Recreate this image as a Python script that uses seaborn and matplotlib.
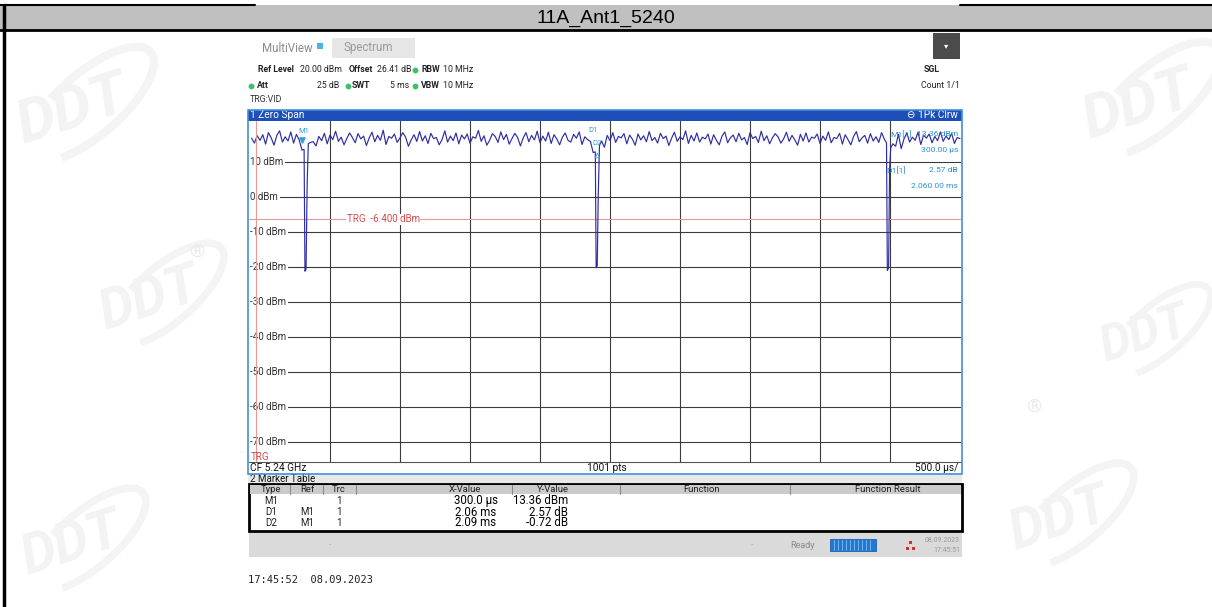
import numpy as np
import pandas as pd
import seaborn as sns
import matplotlib.pyplot as plt
from matplotlib.patches import Rectangle, Arc
from matplotlib.lines import Line2D

TITLE = "11A_Ant1_5240"

# trace 1 (1Pk Clrw), one value every 20 us starting at -0.06 ms;
# None where the burst gap is drawn from the finer dip readings below
trace_dbm = [
    16.8, 15.4, 17.5,
    16.2, 17.8, 15.1, 18.4, 16.9, 14.8, 17.6, 18.9, 15.7, 17.2, 16.0, 18.6, 15.4, 17.9, 16.3, 13.4, None, None, 15.6, 15.8, 14.6, 17.3, 16.1, 18.2, 15.2,
    17.7, 16.4, 18.8, 15.9, 17.1, 14.9, 16.7, 18.3, 17.0, 15.5, 18.1, 16.6, 17.4, 14.7, 16.9, 18.5, 15.8, 17.6, 16.2, 19.1, 15.0, 17.3, 16.8, 18.0, 15.6,
    16.9, 18.4, 17.1, 14.5, 16.3, 17.8, 15.9, 18.7, 16.0, 17.5, 15.3, 18.2, 16.7, 17.0, 14.9, 16.4, 18.9, 15.7, 17.4, 16.1, 18.3, 15.2, 17.7, 16.6, 18.0,
    15.4, 17.2, 16.8, 19.0, 15.9, 17.5, 14.8, 16.2, 18.1, 17.3, 15.6, 18.6, 16.4, 17.9, 15.1, 16.7, 18.2, 17.0, 14.6, 16.9, 18.4, 15.8, 17.6, 16.3, 18.8,
    15.5, 17.4, 16.0, 18.5, 15.3, 17.8, 16.6, 14.9, 17.1, 18.3, 16.2, 15.7, 17.9, 16.8, 18.6, 15.0, 17.2, 16.4, 15.9, 12.7, None, None, 16.0, 14.2, 17.6,
    16.1, 18.4, 15.6, 17.3, 16.9, 18.1, 15.2, 17.7, 16.5, 14.8, 18.0, 16.3, 17.5, 15.8, 18.7, 16.1, 17.0, 15.4, 18.2, 16.7, 17.4, 14.7, 16.8, 18.5, 15.9,
    17.2, 16.4, 18.9, 15.3, 17.6, 16.0, 18.3, 15.7, 17.1, 16.6, 18.0, 15.1, 17.8, 16.2, 14.9, 17.4, 18.6, 15.5, 16.9, 17.7, 15.8, 18.2, 16.3, 17.0, 15.0,
    18.4, 16.7, 17.3, 15.6, 18.8, 16.1, 17.5, 15.2, 16.9, 18.1, 17.2, 15.4, 16.6, 18.5, 15.9, 17.6, 16.3, 14.8, 17.9, 16.0, 18.3, 15.7, 17.1, 16.8, 18.0,
    15.3, 17.4, 16.2, 18.6, 15.5, 17.0, 16.7, 18.2, 15.1, 17.8, 16.4, 14.9, 17.3, 18.7, 15.8, 16.9, 17.6, 15.4, 18.1, 16.0, 17.2, 15.6, 18.4, 16.5, None,
    None, 15.2, 14.5, 17.9, 13.8, 16.6, 18.3, 15.7, 17.1, 16.2, 18.5, 15.0, 17.7, 16.8, 18.0, 15.5, 17.3, 16.1, 18.6, 15.9, 17.4, 16.4, 18.2, 15.3, 17.0, 16.7,
]
trace_start_ms = -0.06
trace_step_ms = 0.02

# the three burst gaps, read at finer time resolution
dip_ms = [0.315, 0.321, 0.329, 0.337, 0.345,
          2.395, 2.401, 2.409, 2.416, 2.425,
          4.475, 4.481, 4.490, 4.497, 4.505]
dip_dbm = [13.6, -21.2, -20.6, 4.0, 15.2,
           12.9, -20.2, -19.6, 0.5, 14.8,
           15.5, -21.0, -20.3, 8.0, 14.0]

sweep_ms = 5.0
grid_dbm = [10, 0, -10, -20, -30, -40, -50, -60, -70]
div_ms = [0.5, 1.0, 1.5, 2.0, 2.5, 3.0, 3.5, 4.0, 4.5]
trg_dbm = -6.4
trg_pos_ms = -0.03

marker_names = ["M1", "D1", "D2"]
marker_ms = [0.30, 2.36, 2.39]
marker_dbm = [13.36, 15.93, 12.64]

tbl_head = ["Type", "Ref", "Trc", "X-Value", "Y-Value", "Function", "Function Result"]
tbl_type = ["M1", "D1", "D2"]
tbl_ref = ["", "M1", "M1"]
tbl_trc = ["1", "1", "1"]
tbl_x = ["300.0 µs", "2.06 ms", "2.09 ms"]
tbl_y = ["13.36 dBm", "2.57 dB", "-0.72 dB"]

sns.set_theme(style="white")
plt.rcParams['font.family'] = ['Roboto', 'DejaVu Sans']

W, H = 1212, 607
fig = plt.figure(figsize=(12.12, 6.07), dpi=100)


def P(x, y):
    return x / W, 1 - y / H


def box(x0, y0, x1, y1, **kw):
    fig.add_artist(Rectangle(P(x0, y1), (x1 - x0) / W, (y1 - y0) / H,
                             transform=fig.transFigure, **kw))


def txt(x, y, s, **kw):
    kw.setdefault("va", "center")
    kw.setdefault("fontsize", 7)
    kw.setdefault("color", "#222222")
    fig.text(*P(x, y), s, **kw)


def line(x0, y0, x1, y1, **kw):
    fig.add_artist(Line2D([x0 / W, x1 / W], [1 - y0 / H, 1 - y1 / H],
                          transform=fig.transFigure, **kw))


def dot(x, y, col):
    fig.add_artist(Line2D([x / W], [1 - y / H], marker="o", ms=3.2, color=col,
                          transform=fig.transFigure))


# faint watermark logos
def logo(cx, cy, s):
    txt(cx, cy, "DDT", fontsize=44 * s, fontweight="bold", fontstyle="italic",
        color="#f3f3f3", ha="center", rotation=18, zorder=0)
    fig.add_artist(Arc(P(cx + 18 * s, cy - 6 * s), 80 * s / W, 125 * s / H, angle=-25,
                       theta1=-80, theta2=190, lw=6 * s, color="#f4f4f4",
                       transform=fig.transFigure, zorder=0))


for cx, cy, s in [(72, 110, 1.0), (150, 300, 0.9), (1138, 105, 1.0),
                  (1145, 335, 0.8), (1060, 520, 0.9), (72, 545, 0.9)]:
    logo(cx, cy, s)
txt(197, 252, "®", fontsize=14, color="#ebebeb", ha="center")
txt(1034, 407, "®", fontsize=14, color="#ebebeb", ha="center")

# table cell frame and title bar
box(0, 5, W, 30, fc="#c0c0c0", ec="none")
line(0, 5, 255, 5, color="black", lw=1.5)
line(960, 5, W, 5, color="black", lw=1.5)
line(0, 30, W, 30, color="black", lw=2)
line(4, 5, 4, H, color="black", lw=2.5)
txt(606, 18, TITLE, ha="center", fontsize=14, color="black", family="Liberation Sans")

# analyzer header
txt(262, 48, "MultiView", fontsize=8.3, color="#8a8a8a")
box(317, 43, 323, 49, fc="#4cb3e6", ec="none")
box(332, 38, 415, 58, fc="#e6e6e6", ec="none")
txt(343, 48, "Spectrum", fontsize=8.3, color="#9a9a9a")
box(933, 33, 960, 59, fc="#4b4b4b", ec="none")
txt(946, 46, "▾", fontsize=6, color="white", ha="center")

fs = 6.3
txt(258, 70, "Ref Level", fontweight="bold", fontsize=fs)
txt(300, 70, "20.00 dBm", fontsize=fs)
txt(349, 70, "Offset", fontweight="bold", fontsize=fs)
txt(377, 70, "26.41 dB", fontsize=fs)
txt(421, 70, "RBW", fontweight="bold", fontsize=fs)
txt(443, 70, "10 MHz", fontsize=fs)
txt(257, 86, "Att", fontweight="bold", fontsize=fs)
txt(317, 86, "25 dB", fontsize=fs)
txt(352, 86, "SWT", fontweight="bold", fontsize=fs)
txt(390, 86, "5 ms", fontsize=fs)
txt(421, 86, "VBW", fontweight="bold", fontsize=fs)
txt(443, 86, "10 MHz", fontsize=fs)
for dx, dy in [(415, 70), (251, 86), (347.5, 86), (415, 86)]:
    dot(dx, dy, "#3fbf6a")
txt(250, 100, "TRG:VID", fontsize=fs, color="#333333")
txt(924, 70, "SGL", fontweight="bold", fontsize=fs)
txt(960, 86, "Count 1/1", fontsize=fs, ha="right")

# window 1 frame
box(248, 110, 962, 121, fc="#1e4fb8", ec="none")
txt(250, 115.5, "1 Zero Span", fontsize=7.3, color="white")
txt(958, 115.5, "⊖ 1Pk Clrw", fontsize=7.3, color="white", ha="right")
box(248, 110, 962, 474, fc="none", ec="#3f8fd6", lw=1.2, zorder=4)

# spectrum plot: 0 ms sits at x=260 px, 140 px per ms; 20 dBm at y=127 px, 3.5 px per dB
ax_l, ax_r, ax_t, ax_b = 249, 961, 121, 462
x_lo, x_hi = (ax_l - 260) / 140, (ax_r - 260) / 140
y_hi, y_lo = 20 + (127 - ax_t) / 3.5, 20 - (ax_b - 127) / 3.5
ax = fig.add_axes([ax_l / W, 1 - ax_b / H, (ax_r - ax_l) / W, (ax_b - ax_t) / H])
ax.set_facecolor("white")
for lv in grid_dbm:
    ax.axhline(lv, color="#3c3c3c", lw=0.8, zorder=1)
    ax.text(x_lo + 0.01, lv, f"{lv} dBm", fontsize=7, color="#333333", va="center",
            zorder=4, bbox=dict(fc="white", ec="none", pad=1.0))
for d in div_ms:
    ax.axvline(d, color="#3c3c3c", lw=0.8, zorder=1)
ax.axhline(trg_dbm, color="#e59a9a", lw=0.8, zorder=1)
ax.axvline(trg_pos_ms, color="#e59a9a", lw=0.8, zorder=5)
ax.text(0.62, trg_dbm, "TRG  -6.400 dBm", fontsize=7, color="#d54a4a", va="center",
        zorder=4, bbox=dict(fc="white", ec="none", pad=0.3))
ax.text(x_lo + 0.01, -74.3, "TRG", fontsize=7, color="#d54a4a", va="center", zorder=6)

regular = pd.DataFrame({
    "ms": trace_start_ms + trace_step_ms * np.arange(len(trace_dbm)),
    "dbm": pd.to_numeric(pd.Series(trace_dbm), errors="coerce"),
}).dropna()
trace = (pd.concat([regular, pd.DataFrame({"ms": dip_ms, "dbm": dip_dbm})])
         .sort_values("ms").reset_index(drop=True))
sns.lineplot(data=trace, x="ms", y="dbm", ax=ax, color="#2e2ea6", linewidth=0.85,
             estimator=None, errorbar=None, sort=False, zorder=3)

mk_col = "#35a0d8"
ax.scatter([marker_ms[0]], [marker_dbm[0] + 2.8], marker="v", s=14, color=mk_col, zorder=5)
ax.text(marker_ms[0] + 0.01, marker_dbm[0] + 5.4, marker_names[0], fontsize=5.5,
        color=mk_col, ha="center", va="center", zorder=5)
ax.text(marker_ms[1] + 0.02, marker_dbm[1] + 3.1, marker_names[1], fontsize=5.5,
        color=mk_col, ha="center", va="center", zorder=5)
ax.text(marker_ms[2] + 0.02, marker_dbm[2] + 2.7, marker_names[2], fontsize=5.5,
        color=mk_col, ha="center", va="center", zorder=5)
ax.scatter([marker_ms[2] + 0.02], [marker_dbm[2] - 0.8], marker="^", s=10,
           facecolor="none", edgecolor=mk_col, lw=0.6, zorder=5)

ax.set_xlim(x_lo, x_hi)
ax.set_ylim(y_lo, y_hi)
ax.set_xticks([])
ax.set_yticks([])
ax.set_xlabel("")
ax.set_ylabel("")
for side in ["top", "left", "right"]:
    ax.spines[side].set_visible(False)
ax.spines["bottom"].set_color("#555555")
ax.spines["bottom"].set_linewidth(0.8)

# marker readout
info = "#2c8fce"
fi = 6.1
txt(890, 134, "M1[1]", fontsize=fi, color=info)
txt(958, 134, "13.36 dBm", fontsize=fi, color=info, ha="right")
txt(958, 150, "300.00 µs", fontsize=fi, color=info, ha="right")
txt(886, 170, "D1[1]", fontsize=fi, color=info)
txt(958, 170, "2.57 dB", fontsize=fi, color=info, ha="right")
txt(958, 186, "2.060 00 ms", fontsize=fi, color=info, ha="right")

# footer of window 1
txt(250, 468, "CF 5.24 GHz", fontsize=7.3, color="#111111")
txt(607, 468, "1001 pts", fontsize=7.3, color="#111111", ha="center")
txt(958, 468, "500.0 µs/", fontsize=7.3, color="#111111", ha="right")

# window 2: marker table
box(248, 475, 962, 484, fc="#e9e9e9", ec="none")
txt(250, 479.5, "2 Marker Table", fontsize=7, color="#111111")
box(249, 484, 962, 531, fc="white", ec="black", lw=2)
box(250, 485, 961, 494, fc="#cbcbcb", ec="none")
for sx in [290, 323, 356, 512, 620, 790]:
    line(sx, 485, sx, 494, color="#8a8a8a", lw=0.8)
head_x = [271, 307, 339, 465, 553, 702, 888]
for hx, h in zip(head_x, tbl_head):
    txt(hx, 489.5, h, fontsize=6.8, color="#222222", ha="center")
for i, ry in enumerate([500.5, 512, 523]):
    txt(271, ry, tbl_type[i], fontsize=7, ha="center")
    txt(307, ry, tbl_ref[i], fontsize=7, ha="center")
    txt(339, ry, tbl_trc[i], fontsize=7, ha="center")
    txt(476, ry, tbl_x[i], fontsize=8.3, ha="center", color="black")
    txt(568, ry, tbl_y[i], fontsize=8.3, ha="right", color="black")

# status bar
box(249, 533, 962, 557, fc="#dadada", ec="none")
txt(330, 545, "-", fontsize=6, color="#aaaaaa", ha="center")
txt(752, 545, "-", fontsize=6, color="#aaaaaa", ha="center")
txt(790, 545, "Ready", fontsize=6.5, color="#8a8a8a")
box(830, 539, 876, 551, fc="#1f7ad6", ec="#1f5fb0", lw=0.6)
for sx in range(834, 874, 4):
    line(sx, 540, sx, 550, color="#9cc8f2", lw=0.5)
for rx, ry in [(910, 542), (907, 548), (913, 548)]:
    box(rx - 1.5, ry - 1.5, rx + 1.5, ry + 1.5, fc="#d03030", ec="none")
txt(960, 541, "08.09.2023", fontsize=5, color="#9a9a9a", ha="right")
txt(960, 550, "17:45:51", fontsize=5, color="#9a9a9a", ha="right")

txt(248, 580, "17:45:52  08.09.2023", fontsize=7.5, color="#222222", family="DejaVu Sans Mono")

fig.savefig("out.png", dpi=100)
